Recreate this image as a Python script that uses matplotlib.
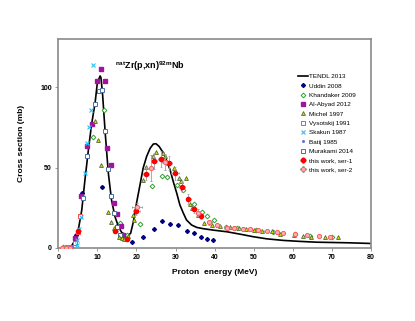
import matplotlib
matplotlib.use('Agg')
import matplotlib.pyplot as plt

plt.rcParams['font.family'] = ['Liberation Sans', 'DejaVu Sans']
plt.rcParams['mathtext.fontset'] = 'custom'
plt.rcParams['mathtext.rm'] = 'Liberation Sans'
plt.rcParams['mathtext.bf'] = 'Liberation Sans:bold'

# TENDL 2013 curve
tendl_e = [1.0, 2.6, 3.4, 4.3, 5.1, 6.0, 6.8, 7.7, 8.5, 9.4, 10.0, 10.7, 10.9, 11.3, 12.0,
           12.8, 13.6, 14.5, 15.4, 16.2, 17.1, 17.9, 18.5, 19.2, 20.0, 20.9, 21.7, 22.6,
           23.5, 24.3, 25.0, 25.8, 26.9, 27.7, 28.6, 29.4, 30.3, 31.1, 32.0, 32.8, 34.1,
           35.4, 37.1, 39.7, 43.1, 46.5, 49.9, 53.3, 57.6, 61.8, 66.1, 70.4, 74.6, 80.0]
tendl_xs = [0.0, 0.0, 1.2, 4.8, 11.0, 23.5, 42.0, 61.0, 76.7, 90.0, 103.0, 107.0, 106.0, 96.5,
            71.5, 46.5, 30.0, 19.4, 13.1, 9.6, 8.3, 7.9, 9.0, 16.2, 27.7, 39.2, 49.6, 56.9,
            62.0, 64.6, 64.8, 63.1, 59.0, 54.4, 48.5, 41.3, 34.0, 26.7, 21.5, 17.3, 14.2,
            12.7, 11.9, 11.0, 10.0, 8.5, 6.9, 5.6, 4.6, 4.0, 3.5, 3.3, 3.1, 2.7]

uddin_e = [4.5, 6.0, 11.3, 14.9, 18.9, 21.6, 24.6, 26.6, 28.7, 30.7, 33.0, 34.8, 36.5, 38.1, 39.7]
uddin_xs = [8.0, 34.0, 37.7, 13.5, 3.8, 6.9, 12.0, 16.7, 14.6, 14.2, 10.6, 9.0, 6.5, 5.2, 4.8]

khand_e = [1.3, 9.0, 11.7, 15.8, 17.7, 21.0, 23.9, 26.6, 27.9, 30.4, 32.0, 34.8, 36.8, 38.0,
           39.9, 43.0, 45.6, 50.5, 55.0, 60.5, 64.5, 70.0]
khand_xs = [0.2, 69.0, 86.0, 15.2, 8.0, 14.8, 38.5, 44.4, 44.0, 39.0, 36.0, 27.3, 22.0, 19.8,
            17.3, 13.0, 12.5, 11.0, 10.0, 8.5, 7.5, 6.5]

abyad_e = [4.3, 5.8, 7.4, 8.6, 9.9, 10.9, 12.0, 12.5, 13.6, 14.3, 14.9, 16.0, 16.6]
abyad_xs = [5.8, 32.0, 63.5, 77.0, 104.0, 111.5, 104.0, 62.0, 51.5, 28.0, 21.0, 13.5, 8.1]

michel_e = [9.5, 10.2, 10.9, 12.8, 13.5, 14.3, 15.5, 16.2, 16.8, 17.8, 19.0, 19.4, 21.7, 22.4,
            24.3, 24.9, 26.7, 27.3, 28.1, 29.6, 30.9, 31.4, 32.7, 33.7, 34.3, 35.8, 37.4,
            39.2, 41.4, 43.9, 46.1, 48.0, 50.1, 52.0, 54.6, 56.7, 60.3, 62.7, 64.6, 68.2, 71.6]
michel_xs = [78.7, 67.0, 51.5, 22.3, 16.2, 12.5, 6.9, 6.2, 5.6, 7.5, 20.4, 17.3, 42.3, 50.6,
             57.0, 59.4, 59.0, 57.0, 52.7, 49.6, 43.3, 41.3, 43.3, 27.3, 24.6, 20.4, 15.6,
             14.2, 13.8, 13.1, 12.1, 11.5, 11.0, 10.6, 10.4, 8.5, 7.9, 7.5, 6.9, 6.5, 6.5]

vyss_e = [2.3, 3.3, 4.3, 5.0, 5.6]
vyss_xs = [0.2, 0.6, 3.1, 9.6, 19.8]

skakun_e = [4.7, 4.9, 5.4, 5.9, 6.8, 7.4, 7.9, 8.4, 9.0]
skakun_xs = [1.7, 4.8, 12.0, 19.4, 46.5, 65.0, 75.0, 86.0, 113.7]

babij_e = [2.8, 3.6]
babij_xs = [0.3, 0.8]

murak_e = [6.3, 7.4, 9.4, 10.3, 11.2, 12.0, 12.8, 13.6, 14.3, 15.1, 15.8]
murak_xs = [31.3, 57.3, 89.8, 97.5, 98.0, 72.5, 49.0, 32.5, 21.5, 12.7, 7.9]

ser1_e = [5.1, 14.6, 17.5, 19.9, 22.4, 24.4, 26.4, 28.3, 29.9, 31.6, 33.3, 34.7, 36.4]
ser1_xs = [10.4, 10.2, 5.4, 23.0, 46.0, 54.0, 55.2, 52.7, 46.5, 38.0, 30.4, 24.0, 19.8]
ser1_de = [0.4, 0.6, 0.7, 0.9, 0.8, 0.8, 0.8, 0.7, 1.0, 0.7, 0.6, 0.6, 0.6]
ser1_dxs = [1.0, 1.2, 0.6, 2.5, 4.0, 5.0, 5.0, 4.5, 4.0, 3.5, 3.0, 2.2, 1.8]

ser2_e = [0.9, 1.9, 3.0, 20.1, 23.7, 27.4, 35.7, 38.6, 40.7, 43.1, 45.0, 47.2, 49.0, 51.2,
          53.3, 55.9, 57.4, 60.5, 63.7, 66.8, 69.5]
ser2_xs = [0.0, 0.0, 0.0, 25.6, 49.6, 53.5, 21.9, 16.0, 14.2, 12.3, 12.5, 11.7, 11.5, 11.0,
           10.6, 9.6, 9.4, 8.3, 7.7, 7.3, 6.9]
ser2_de = [0.2, 0.2, 0.2, 1.2, 0.9, 0.8, 0.6, 0.6, 0.6, 0.7, 0.7, 0.6, 0.6, 0.6,
           0.6, 0.6, 0.5, 0.5, 0.5, 0.5, 0.5]
ser2_dxs = [0.1, 0.1, 0.1, 2.5, 8.0, 5.0, 2.0, 1.5, 1.3, 1.1, 1.1, 1.0, 1.0, 0.9,
            0.9, 0.8, 0.8, 0.7, 0.7, 0.7, 0.6]

fig = plt.figure(figsize=(4.15, 3.21), dpi=100)
ax = fig.add_axes([0.1405, 0.228, 0.7535, 0.6505])

ms = 2.6
ax.plot(tendl_e, tendl_xs, color='black', lw=1.2, label='TENDL 2013', zorder=2)
ax.plot(uddin_e, uddin_xs, 'D', ms=2.0, color='#000080', mec='#000080',
        ls='none', label='Uddin 2008', zorder=3)
ax.plot(khand_e, khand_xs, 'D', ms=2.4, mfc='white', mec='#33a033', mew=0.7,
        ls='none', label='Khandaker 2009', zorder=3)
ax.plot(abyad_e, abyad_xs, 's', ms=ms, color='#a0139f', ls='none',
        label='Al-Abyad 2012', zorder=3)
ax.plot(michel_e, michel_xs, '^', ms=2.8, mfc='#d8d800', mec='#4f6a3a', mew=0.6,
        ls='none', label='Michel 1997', zorder=4)
ax.plot(vyss_e, vyss_xs, 's', ms=ms, mfc='white', mec='#ff4a4a', mew=0.7,
        ls='none', label='Vysotskij 1991', zorder=3)
ax.plot(skakun_e, skakun_xs, 'x', ms=ms, mec='#33c0ee', mew=0.8,
        ls='none', label='Skakun 1987', zorder=3)
ax.plot(babij_e, babij_xs, 'o', ms=1.2, color='#6a6aff',
        ls='none', label='Batij 1985', zorder=3)
ax.plot(murak_e, murak_xs, 's', ms=ms, mfc='white', mec='#4a6fa5', mew=0.7,
        ls='none', label='Murakami 2014', zorder=3)
ax.errorbar(ser1_e, ser1_xs, xerr=ser1_de, yerr=ser1_dxs, fmt='o', ms=3.0,
            color='#ff0000', ecolor='#a0a0a0', elinewidth=0.6, capsize=1.0,
            capthick=0.5, label='this work, ser-1', zorder=5)
ax.errorbar(ser2_e, ser2_xs, xerr=ser2_de, yerr=ser2_dxs, fmt='o', ms=3.0,
            mfc='#ffb0b0', mec='#ff5a5a', mew=0.7, ecolor='#a0a0a0',
            elinewidth=0.6, capsize=1.0, capthick=0.5,
            label='this work, ser-2', zorder=5)

ax.set_xlim(0, 80)
ax.set_ylim(0, 130)
ax.set_xticks(range(0, 81, 10))
ax.set_yticks([0, 50, 100])

for sp in ax.spines.values():
    sp.set_color('#8a8a8a')
    sp.set_linewidth(1.2)

ax.tick_params(axis='both', length=2.5, width=0.6, color='#8a8a8a',
               labelsize=5, pad=2)
for lab in ax.get_xticklabels() + ax.get_yticklabels():
    lab.set_fontweight('bold')

ax.set_xlabel('Proton  energy (MeV)', fontsize=6, fontweight='bold', labelpad=6)
ax.set_ylabel('Cross section (mb)', fontsize=6, fontweight='bold', labelpad=11)

ax.text(14.5, 113, r'$^{\mathbf{nat}}$Zr(p,xn)$^{\mathbf{92m}}$Nb', fontsize=6.5,
        fontweight='bold', va='center', ha='left')

handles, labels = ax.get_legend_handles_labels()
leg = ax.legend(handles, labels, loc='upper left', bbox_to_anchor=(0.758, 0.845),
                frameon=False, fontsize=4.6, handlelength=1.6, handletextpad=0.15,
                labelspacing=0.6, borderaxespad=0)

fig.savefig('out.png', dpi=100)
